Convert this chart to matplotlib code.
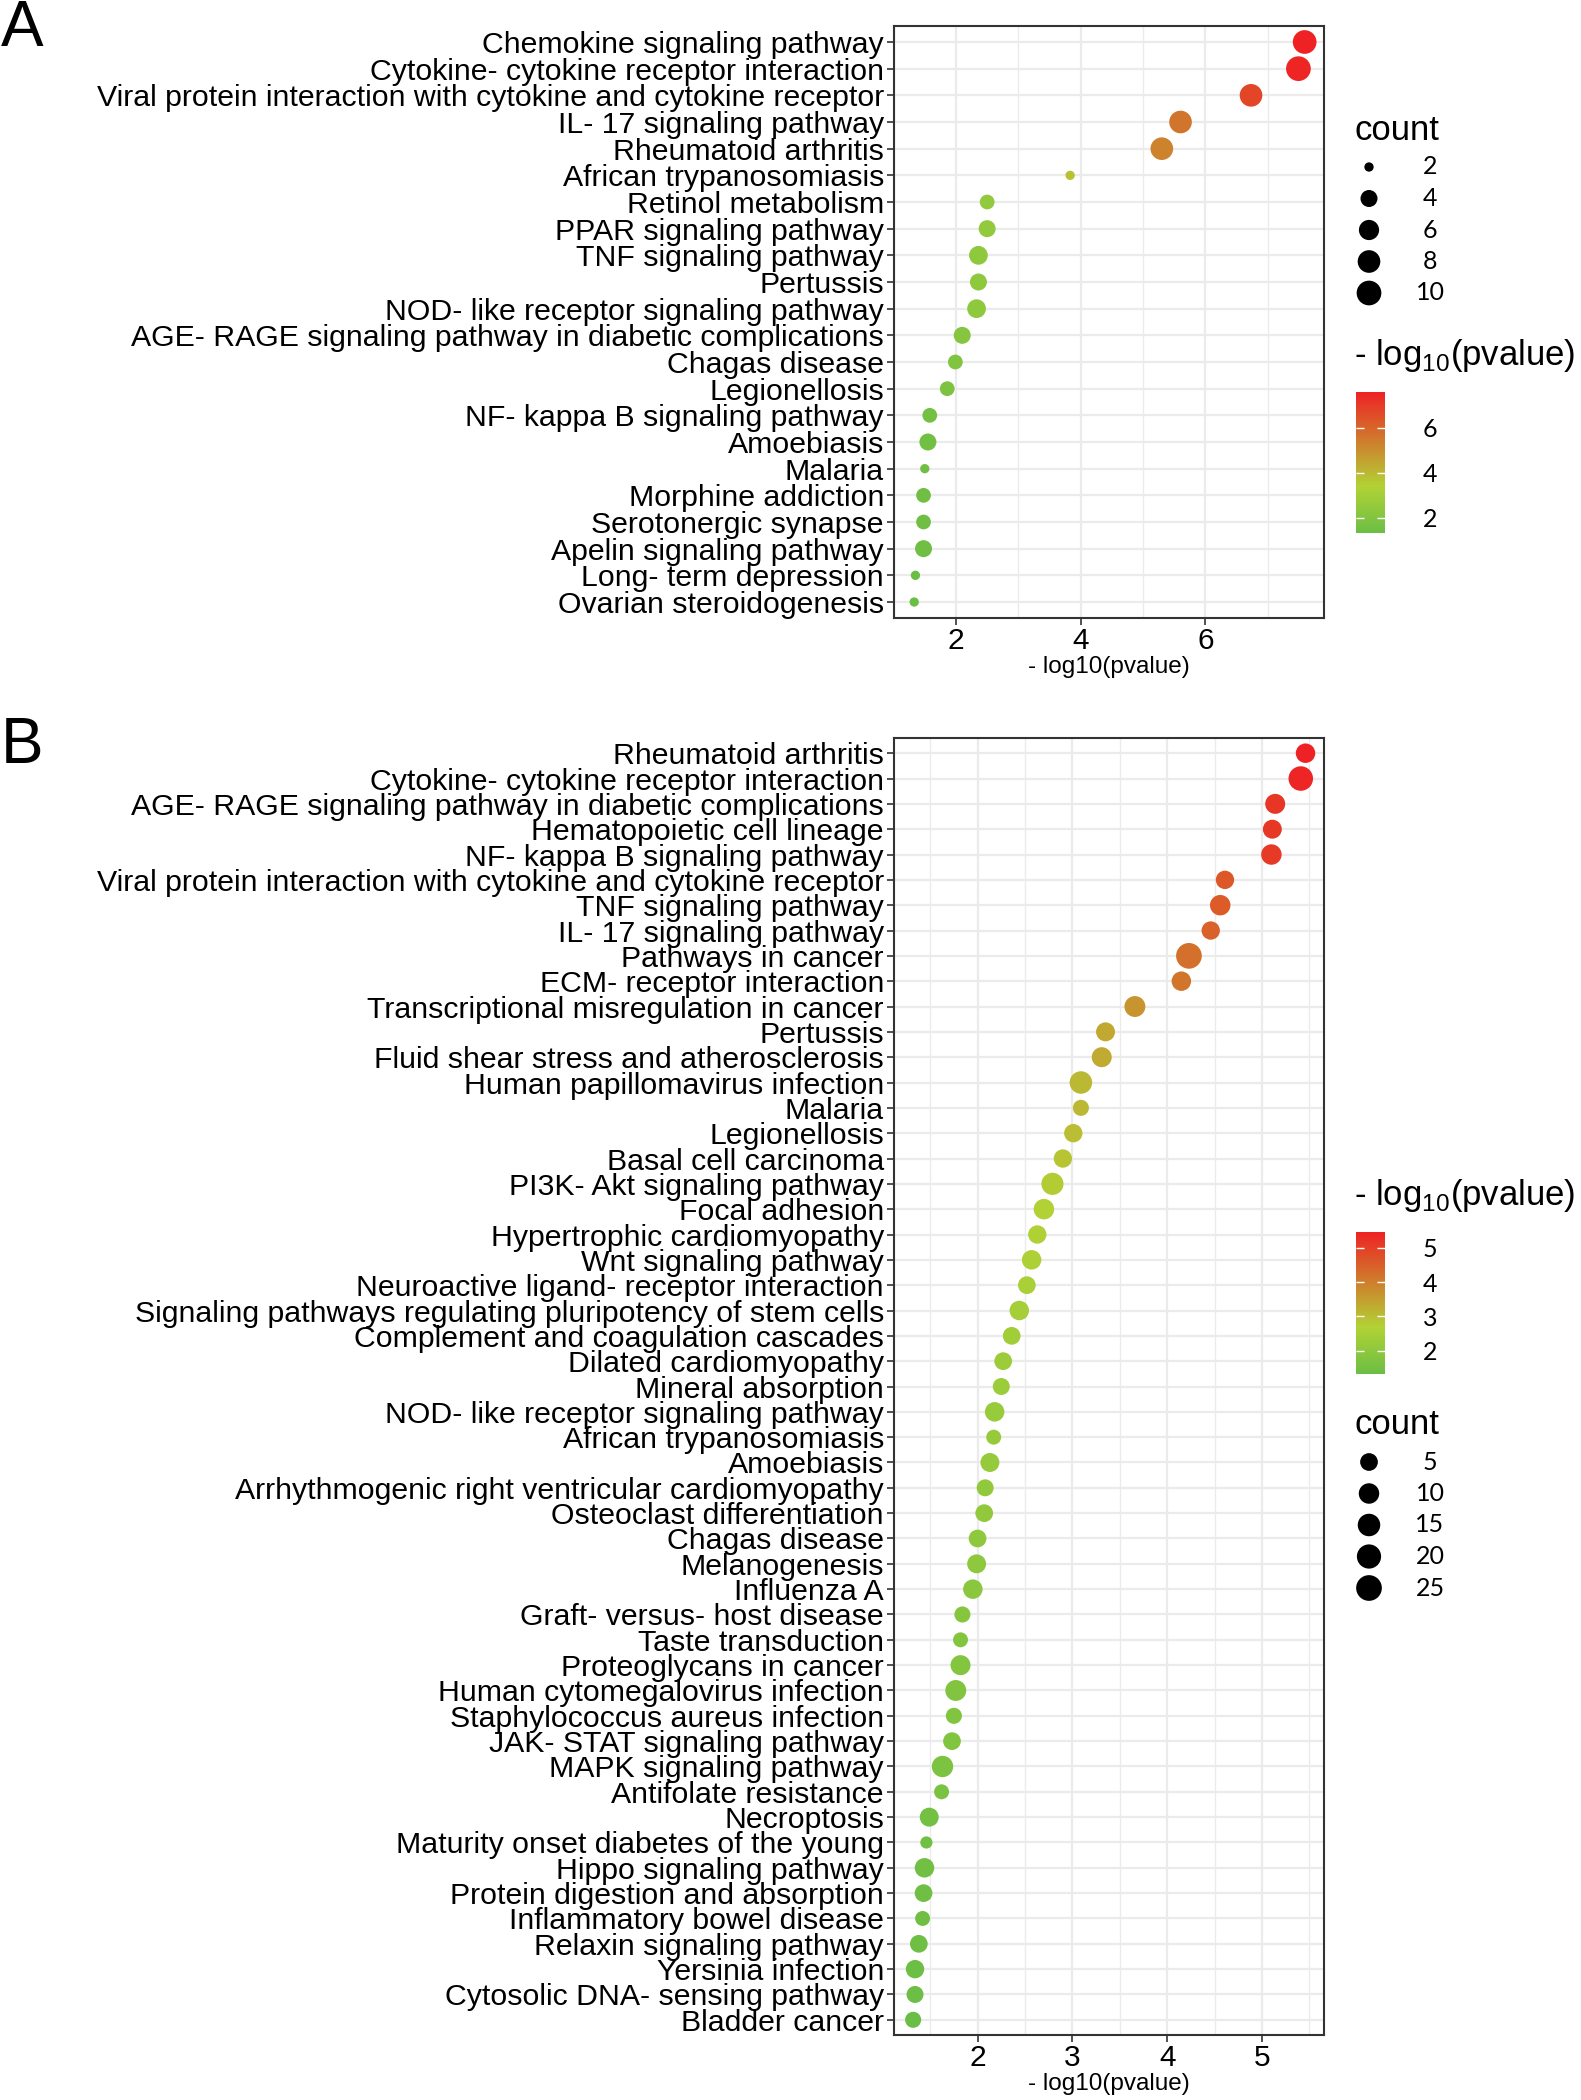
import numpy as np
import matplotlib
matplotlib.use('Agg')
import matplotlib.pyplot as plt
from matplotlib.colors import LinearSegmentedColormap, Normalize
from matplotlib.cm import ScalarMappable

plt.rcParams['font.family'] = ['Liberation Sans', 'DejaVu Sans']
plt.rcParams['mathtext.fontset'] = 'custom'
plt.rcParams['mathtext.rm'] = 'Liberation Sans'

# ---- panel A data (top to bottom) ----
terms_a = ['Chemokine signaling pathway', 'Cytokine- cytokine receptor interaction',
           'Viral protein interaction with cytokine and cytokine receptor', 'IL- 17 signaling pathway',
           'Rheumatoid arthritis', 'African trypanosomiasis', 'Retinol metabolism',
           'PPAR signaling pathway', 'TNF signaling pathway', 'Pertussis',
           'NOD- like receptor signaling pathway', 'AGE- RAGE signaling pathway in diabetic complications',
           'Chagas disease', 'Legionellosis', 'NF- kappa B signaling pathway', 'Amoebiasis',
           'Malaria', 'Morphine addiction', 'Serotonergic synapse', 'Apelin signaling pathway',
           'Long- term depression', 'Ovarian steroidogenesis']
logp_a = [7.59, 7.49, 6.73, 5.60, 5.30, 3.83, 2.50, 2.50, 2.36, 2.36, 2.33,
          2.10, 1.99, 1.86, 1.58, 1.55, 1.50, 1.48, 1.48, 1.48, 1.35, 1.33]
count_a = [9, 10, 8, 8, 8, 2, 3, 4, 5, 4, 5, 4, 3, 3, 3, 4, 2, 3, 3, 4, 2, 2]

# ---- panel B data (top to bottom) ----
terms_b = ['Rheumatoid arthritis', 'Cytokine- cytokine receptor interaction',
           'AGE- RAGE signaling pathway in diabetic complications', 'Hematopoietic cell lineage',
           'NF- kappa B signaling pathway', 'Viral protein interaction with cytokine and cytokine receptor',
           'TNF signaling pathway', 'IL- 17 signaling pathway', 'Pathways in cancer',
           'ECM- receptor interaction', 'Transcriptional misregulation in cancer', 'Pertussis',
           'Fluid shear stress and atherosclerosis', 'Human papillomavirus infection', 'Malaria',
           'Legionellosis', 'Basal cell carcinoma', 'PI3K- Akt signaling pathway', 'Focal adhesion',
           'Hypertrophic cardiomyopathy', 'Wnt signaling pathway',
           'Neuroactive ligand- receptor interaction',
           'Signaling pathways regulating pluripotency of stem cells',
           'Complement and coagulation cascades', 'Dilated cardiomyopathy', 'Mineral absorption',
           'NOD- like receptor signaling pathway', 'African trypanosomiasis', 'Amoebiasis',
           'Arrhythmogenic right ventricular cardiomyopathy', 'Osteoclast differentiation',
           'Chagas disease', 'Melanogenesis', 'Influenza A', 'Graft- versus- host disease',
           'Taste transduction', 'Proteoglycans in cancer', 'Human cytomegalovirus infection',
           'Staphylococcus aureus infection', 'JAK- STAT signaling pathway', 'MAPK signaling pathway',
           'Antifolate resistance', 'Necroptosis', 'Maturity onset diabetes of the young',
           'Hippo signaling pathway', 'Protein digestion and absorption',
           'Inflammatory bowel disease', 'Relaxin signaling pathway', 'Yersinia infection',
           'Cytosolic DNA- sensing pathway', 'Bladder cancer']
logp_b = [5.46, 5.41, 5.14, 5.11, 5.10, 4.61, 4.56, 4.46, 4.23, 4.15,
          3.66, 3.35, 3.31, 3.09, 3.09, 3.01, 2.90, 2.79, 2.70, 2.63,
          2.57, 2.52, 2.44, 2.36, 2.27, 2.25, 2.18, 2.17, 2.13, 2.08,
          2.07, 2.00, 1.99, 1.95, 1.84, 1.82, 1.82, 1.77, 1.75, 1.73,
          1.63, 1.62, 1.49, 1.46, 1.44, 1.43, 1.42, 1.38, 1.34, 1.34, 1.32]
count_b = [8, 21, 9, 7, 10, 6, 10, 6, 25, 8,
           11, 7, 9, 15, 3, 6, 6, 14, 10, 6,
           8, 5, 8, 5, 5, 4, 8, 2, 7, 4,
           5, 5, 7, 8, 3, 2, 9, 11, 3, 5,
           12, 2, 7, 1, 8, 5, 2, 5, 6, 4, 3]

size_breaks_a = [2, 4, 6, 8, 10]
size_breaks_b = [5, 10, 15, 20, 25]

W, H = 1581, 2100
cmap = LinearSegmentedColormap.from_list('gr', [(0, '#6BBE45'), (0.33, '#B2D235'), (1, '#EE2224')])


def dot_size(c, cmin, cmax, r0, r1):
    # ggplot-like area scale: diameter in px -> scatter size in pt^2
    c = np.asarray(c, dtype=float)
    d = r0 + (r1 - r0) * np.sqrt((c - cmin) / (cmax - cmin))
    return (d * 0.72) ** 2


def px_axes(fig, left, top, width, height):
    return fig.add_axes([left / W, 1 - (top + height) / H, width / W, height / H])


def panel(ax, terms, logp, counts, xlim, major, minor, sz):
    n = len(terms)
    y = np.arange(n)[::-1]
    norm = Normalize(min(logp), max(logp))
    ax.set_axisbelow(True)
    ax.scatter(logp, y, s=dot_size(counts, *sz), c=logp, cmap=cmap, norm=norm,
               linewidths=0, zorder=3)
    ax.set_xlim(*xlim)
    ax.set_ylim(-0.6, n - 0.4)
    ax.set_yticks(y)
    ax.set_yticklabels(terms, fontsize=21.8, color='black')
    ax.set_xticks(major)
    ax.set_xticks(minor, minor=True)
    ax.set_xticklabels([str(v) for v in major], fontsize=21.5, color='black')
    ax.grid(True, which='major', color='#EBEBEB', lw=1.6)
    ax.grid(True, which='minor', axis='x', color='#EBEBEB', lw=1.0)
    ax.tick_params(axis='both', which='major', length=5, width=1.2, color='#333333')
    ax.tick_params(axis='y', pad=2)
    ax.tick_params(axis='x', pad=1.5)
    ax.tick_params(axis='x', which='minor', length=0)
    for sp in ax.spines.values():
        sp.set_color('#333333')
        sp.set_linewidth(1.5)
    ax.set_xlabel('- log10(pvalue)', fontsize=17.5, labelpad=0.5)
    return norm


fig = plt.figure(figsize=(W / 100, H / 100), dpi=100)

sz_a = (2, 10, 9.3, 24.7)
sz_b = (1, 25, 12.2, 25.7)

ax_a = px_axes(fig, 893.6, 26, 1324 - 893.6, 618 - 26)
norm_a = panel(ax_a, terms_a, logp_a, count_a, (1.01, 7.9), [2, 4, 6], [1, 3, 5, 7], sz_a)

ax_b = px_axes(fig, 893.6, 738, 1324 - 893.6, 2035 - 738)
norm_b = panel(ax_b, terms_b, logp_b, count_b, (1.114, 5.655), [2, 3, 4, 5],
               [1.5, 2.5, 3.5, 4.5, 5.5], sz_b)

# overlay in pixel coordinates for panel letters and legends
lax = fig.add_axes([0, 0, 1, 1], facecolor='none')
lax.set_xlim(0, W)
lax.set_ylim(H, 0)
lax.axis('off')

lax.text(1, 29, 'A', fontsize=46, ha='left', va='center')
lax.text(1, 746, 'B', fontsize=46, ha='left', va='center')

ptitle = r'- log$_{\mathregular{10}}$(pvalue)'


def size_legend(top, breaks, sz):
    lax.text(1354, top, 'count', fontsize=25, ha='left', va='center')
    ys = top + 37 + np.arange(len(breaks)) * 31.5
    lax.scatter([1369] * len(breaks), ys, s=dot_size(breaks, *sz), c='black', linewidths=0)
    for yy, b in zip(ys, breaks):
        lax.text(1430, yy, str(b), fontsize=18, ha='center', va='center', family=['Lato', 'DejaVu Sans'])


def color_legend(top, bar_top, bar_h, norm, ticks):
    lax.text(1354, top, ptitle, fontsize=25, ha='left', va='center')
    cax = px_axes(fig, 1356, bar_top, 29, bar_h)
    cb = fig.colorbar(ScalarMappable(norm=norm, cmap=cmap), cax=cax, ticks=ticks)
    cb.outline.set_visible(False)
    cax.tick_params(direction='in', length=6, width=1, color='white', left=True, right=True,
                    labelleft=False, labelright=True, pad=27, labelsize=18)
    for lab in cax.get_yticklabels():
        lab.set_family(['Lato', 'DejaVu Sans'])


size_legend(130, size_breaks_a, sz_a)
color_legend(355, 392, 141, norm_a, [2, 4, 6])

color_legend(1195, 1232, 142, norm_b, [2, 3, 4, 5])
size_legend(1425, size_breaks_b, sz_b)

fig.savefig('out.png', dpi=100)
